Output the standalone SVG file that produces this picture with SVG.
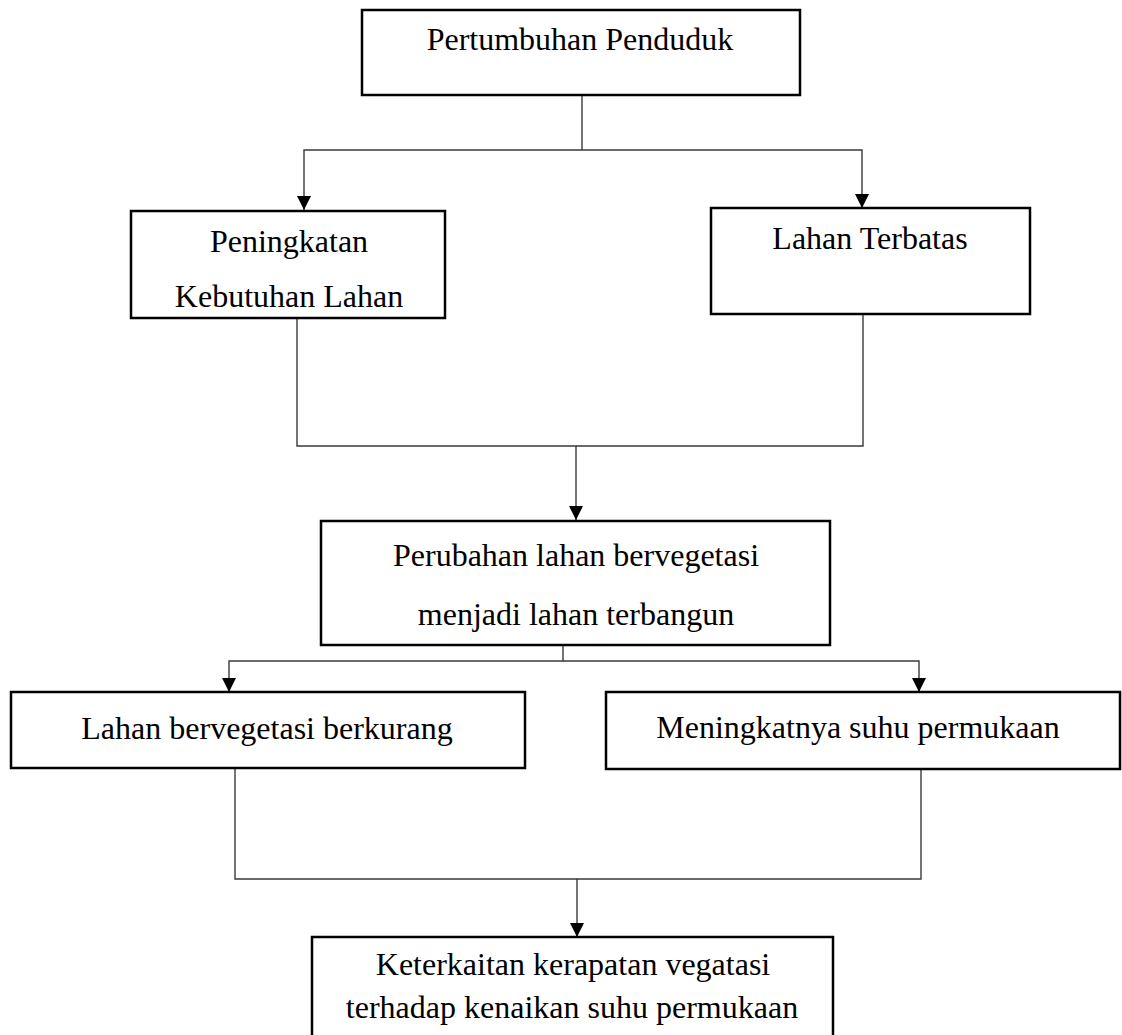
<svg xmlns="http://www.w3.org/2000/svg" width="1122" height="1035" viewBox="0 0 1122 1035">
<style>
.box{fill:#fff;stroke:#000;stroke-width:2.5}
.lbl{font-family:"Liberation Serif","Times New Roman",serif;font-size:32px;fill:#000;text-anchor:middle}
.con{fill:none;stroke:#3a3a3a;stroke-width:1.4}
</style>
<defs>
<marker id="arr" markerUnits="userSpaceOnUse" markerWidth="14" markerHeight="14" viewBox="0 0 14 14" refX="14" refY="7" orient="auto">
<path d="M0,0 L14,7 L0,14 z" fill="#000"/>
</marker>
</defs>
<rect width="1122" height="1035" fill="#fff"/>
<g id="connectors">
<path class="con" d="M582,95 V150"/>
<path class="con" d="M582,150 H304 V210" marker-end="url(#arr)"/>
<path class="con" d="M582,150 H862 V208" marker-end="url(#arr)"/>
<path class="con" d="M297,318 V446 H576 V520" marker-end="url(#arr)"/>
<path class="con" d="M863,314 V446 H576"/>
<path class="con" d="M563,645 V661 H229 V692" marker-end="url(#arr)"/>
<path class="con" d="M563,661 H919 V692" marker-end="url(#arr)"/>
<path class="con" d="M235,768 V879 H577 V937" marker-end="url(#arr)"/>
<path class="con" d="M921,768 V879 H577"/>
</g>
<g id="n1">
<rect class="box" x="362" y="10" width="438" height="85"/>
<text class="lbl" x="580" y="50">Pertumbuhan Penduduk</text>
</g>
<g id="n2">
<rect class="box" x="131" y="211" width="314" height="107"/>
<text class="lbl" x="289" y="252">Peningkatan</text>
<text class="lbl" x="289" y="307">Kebutuhan Lahan</text>
</g>
<g id="n3">
<rect class="box" x="711" y="208" width="319" height="106"/>
<text class="lbl" x="870" y="249">Lahan Terbatas</text>
</g>
<g id="n4">
<rect class="box" x="321" y="521" width="509" height="124"/>
<text class="lbl" x="576" y="566">Perubahan lahan bervegetasi</text>
<text class="lbl" x="576" y="625">menjadi lahan terbangun</text>
</g>
<g id="n5">
<rect class="box" x="11" y="692" width="514" height="76"/>
<text class="lbl" x="267" y="739">Lahan bervegetasi berkurang</text>
</g>
<g id="n6">
<rect class="box" x="606" y="692" width="514" height="77"/>
<text class="lbl" x="858" y="738">Meningkatnya suhu permukaan</text>
</g>
<g id="n7">
<rect class="box" x="312" y="937" width="521" height="110"/>
<text class="lbl" x="573" y="975">Keterkaitan kerapatan vegatasi</text>
<text class="lbl" x="572" y="1018">terhadap kenaikan suhu permukaan</text>
</g>
</svg>
